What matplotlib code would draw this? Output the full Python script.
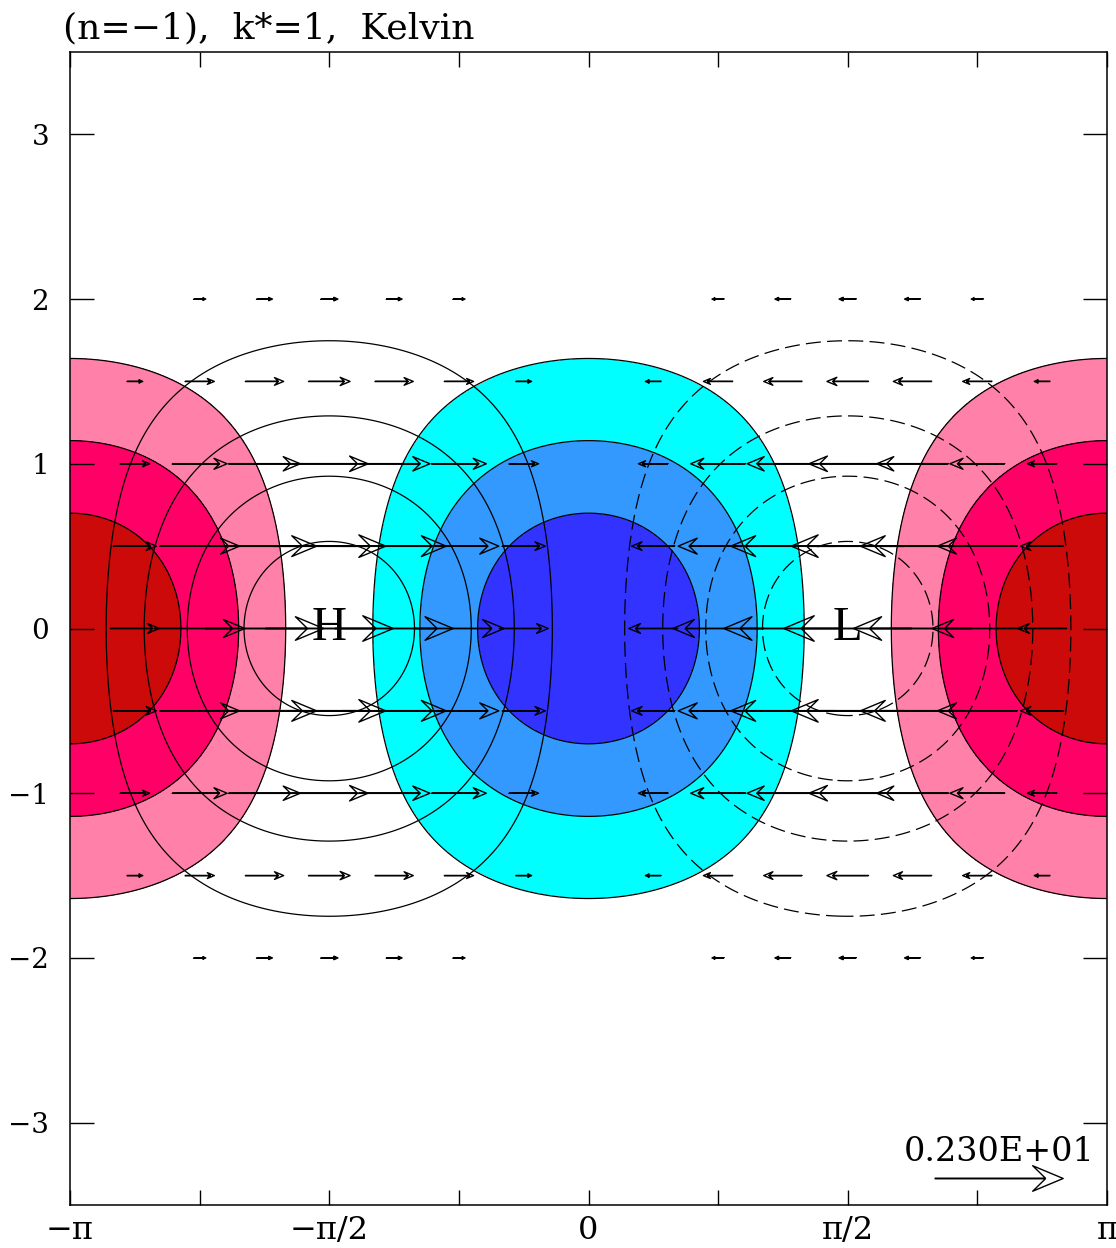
import matplotlib
matplotlib.use('Agg')
import matplotlib.pyplot as plt
import numpy as np

# Kelvin wave (n=-1), k*=1 : u = phi, v = 0
amp = 2.3
k_star = 1
phi_levels = [-2.0, -1.5, -1.0, -0.5, 0.5, 1.0, 1.5, 2.0]
div_levels = [-3.0, -1.8, -1.2, -0.6, 0.6, 1.2, 1.8, 3.0]
div_colors = ['#3333ff', '#3399ff', '#00ffff', 'white', '#ff80a8', '#ff0066', '#cc0a0a']
vec_x = np.arange(-8, 9) * np.pi / 8
vec_y = np.arange(-2, 2.01, 0.5)
vec_min = 0.15
x_ticks = np.arange(-4, 5) * np.pi / 4
x_tick_labels = ['−π', '', '−π/2', '', '0', '', 'π/2', '', 'π']
y_ticks = [-3, -2, -1, 0, 1, 2, 3]

xg = np.linspace(-np.pi, np.pi, 500)
yg = np.linspace(-3.5, 3.5, 500)
X, Y = np.meshgrid(xg, yg)
phi = -amp * np.sin(k_star * X) * np.exp(-Y**2 / 2)
div = -amp * k_star * np.cos(k_star * X) * np.exp(-Y**2 / 2)

fig = plt.figure(figsize=(11.16, 12.48), dpi=100)
ax = fig.add_axes([70/1116, 43/1248, 1037/1116, 1153/1248])

ax.contourf(X, Y, div, levels=div_levels, colors=div_colors)
ax.contour(X, Y, div, levels=div_levels[1:-1], colors='k', linewidths=0.9,
           linestyles='solid')
ax.contour(X, Y, phi, levels=[l for l in phi_levels if l > 0], colors='k',
           linewidths=0.9, linestyles='solid')
ax.contour(X, Y, phi, levels=[l for l in phi_levels if l < 0], colors='k',
           linewidths=0.9, linestyles=[(0, (12, 5))])

VX, VY = np.meshgrid(vec_x, vec_y)
U = -amp * np.sin(k_star * VX) * np.exp(-VY**2 / 2)
keep = np.abs(U) >= vec_min
q = ax.quiver(VX[keep], VY[keep], U[keep], np.zeros(keep.sum()),
              pivot='mid', angles='xy', scale_units='x', scale=amp / (128/165),
              units='dots', width=0.6, headlength=55, headwidth=46,
              headaxislength=32, minshaft=4.2, facecolors='none',
              edgecolors='k', linewidths=1.0, zorder=4)
ax.quiverkey(q, 0.896, 0.023, amp, '0.230E+01', labelpos='N',
             coordinates='axes', labelsep=0.1,
             fontproperties={'family': 'DejaVu Serif', 'size': 24})

ax.text(-np.pi/2, 0, 'H', ha='center', va='center', fontsize=35,
        family='Liberation Serif', zorder=5)
ax.text(np.pi/2, 0, 'L', ha='center', va='center', fontsize=35,
        family='Liberation Serif', zorder=5)

ax.set_xlim(-np.pi, np.pi)
ax.set_ylim(-3.5, 3.5)
ax.set_xticks(x_ticks)
ax.set_xticklabels(x_tick_labels)
ax.set_yticks(y_ticks)
ax.set_yticklabels(['−3', '−2', '−1', '0', '1', '2', '3'])
ax.tick_params(direction='in', top=True, right=True, width=1)
ax.tick_params(axis='x', length=11, pad=7, labelsize=23)
ax.tick_params(axis='y', length=17, pad=15, labelsize=20)
for lab in ax.get_xticklabels() + ax.get_yticklabels():
    lab.set_family('DejaVu Serif')
for s in ax.spines.values():
    s.set_linewidth(1.1)

ax.text(-0.007, 1.006, '(n=−1),  k*=1,  Kelvin', transform=ax.transAxes,
        ha='left', va='bottom', fontsize=26, family='DejaVu Serif')

fig.savefig('out.png', dpi=100)
